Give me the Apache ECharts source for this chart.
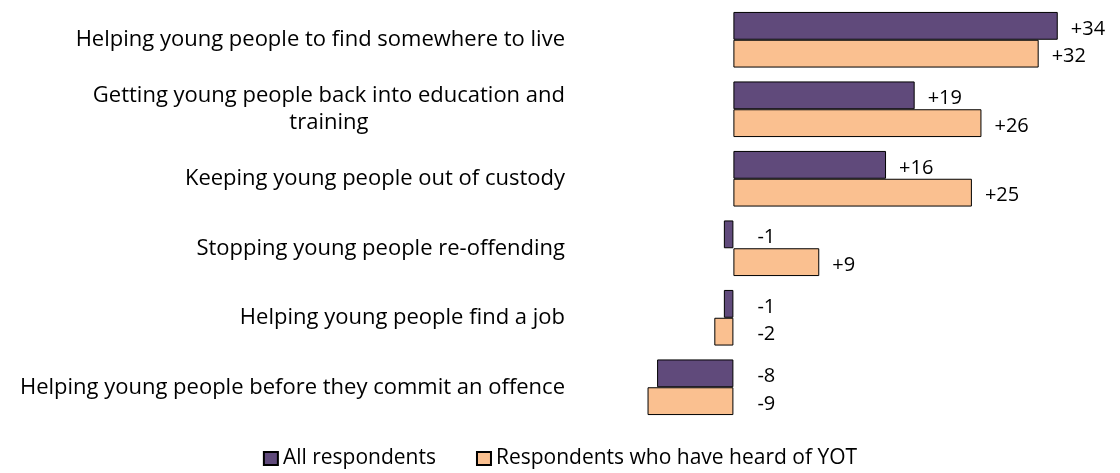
<!DOCTYPE html>
<html>
<head>
<meta charset="utf-8">
<style>
  html, body { margin: 0; padding: 0; background: #fff; }
  #chart { width: 1120px; height: 473px; }
</style>
<script src="https://cdn.jsdelivr.net/npm/echarts@6/dist/echarts.min.js"></script>
</head>
<body>
<div id="chart"></div>
<script>
// Net change in perceived effectiveness, by area of work
const categories = [
  'Helping young people to find somewhere to live',
  'Getting young people back into education and\ntraining',
  'Keeping young people out of custody',
  'Stopping young people re-offending',
  'Helping young people find a job',
  'Helping young people before they commit an offence'
];
const seriesNames = ['All respondents', 'Respondents who have heard of YOT'];
const allRespondents = [34, 19, 16, -1, -1, -8];
const heardOfYOT = [32, 26, 25, 9, -2, -9];

const FONT = '"Open Sans", "Noto Sans", sans-serif';
const CATEGORY_SIZE = 22;
const LEGEND_SIZE = 21;

function signed(v) { return v > 0 ? '+' + v : String(v); }

// Value labels sit to the right of the bar end, or of the zero line for negative bars
function barData(values) {
  return values.map(v => ({
    value: v,
    label: { distance: v < 0 ? 24 : 13 }
  }));
}

const chart = echarts.init(document.getElementById('chart'), null, { renderer: 'canvas' });

const labelStyle = {
  show: true,
  position: 'right',
  offset: [0, 3],
  color: '#000',
  fontFamily: FONT,
  fontSize: 20,
  formatter: p => signed(p.value)
};

chart.setOption({
  backgroundColor: '#fff',
  animation: false,
  grid: { left: 638, right: 5, top: 5, height: 417, containLabel: false },
  xAxis: {
    type: 'value',
    min: -10,
    max: 40,
    show: false
  },
  yAxis: {
    type: 'category',
    inverse: true,
    data: categories,
    axisLine: { show: false, onZero: false },
    axisTick: { show: false },
    splitLine: { show: false },
    axisLabel: {
      margin: 73,
      align: 'right',
      color: '#000',
      fontFamily: FONT,
      fontSize: CATEGORY_SIZE,
      formatter: v => v.split('\n').map(line => '{c|' + line + '}').join('\n'),
      rich: {
        c: { align: 'center', fontFamily: FONT, fontSize: CATEGORY_SIZE, color: '#000', lineHeight: 27 }
      }
    }
  },
  legend: {
    top: 448,
    left: 'center',
    padding: 0,
    itemWidth: 14,
    itemHeight: 13,
    itemGap: 40,
    icon: 'rect',
    textStyle: { fontFamily: FONT, fontSize: LEGEND_SIZE, color: '#000' },
    data: seriesNames
  },
  series: [
    {
      name: seriesNames[0],
      type: 'bar',
      data: barData(allRespondents),
      barGap: '0%',
      barCategoryGap: '20%',
      itemStyle: { color: '#604A7B', borderColor: '#000', borderWidth: 1 },
      label: labelStyle
    },
    {
      name: seriesNames[1],
      type: 'bar',
      data: barData(heardOfYOT),
      barGap: '0%',
      barCategoryGap: '20%',
      itemStyle: { color: '#FAC090', borderColor: '#000', borderWidth: 1 },
      label: labelStyle
    }
  ]
});
</script>
</body>
</html>
